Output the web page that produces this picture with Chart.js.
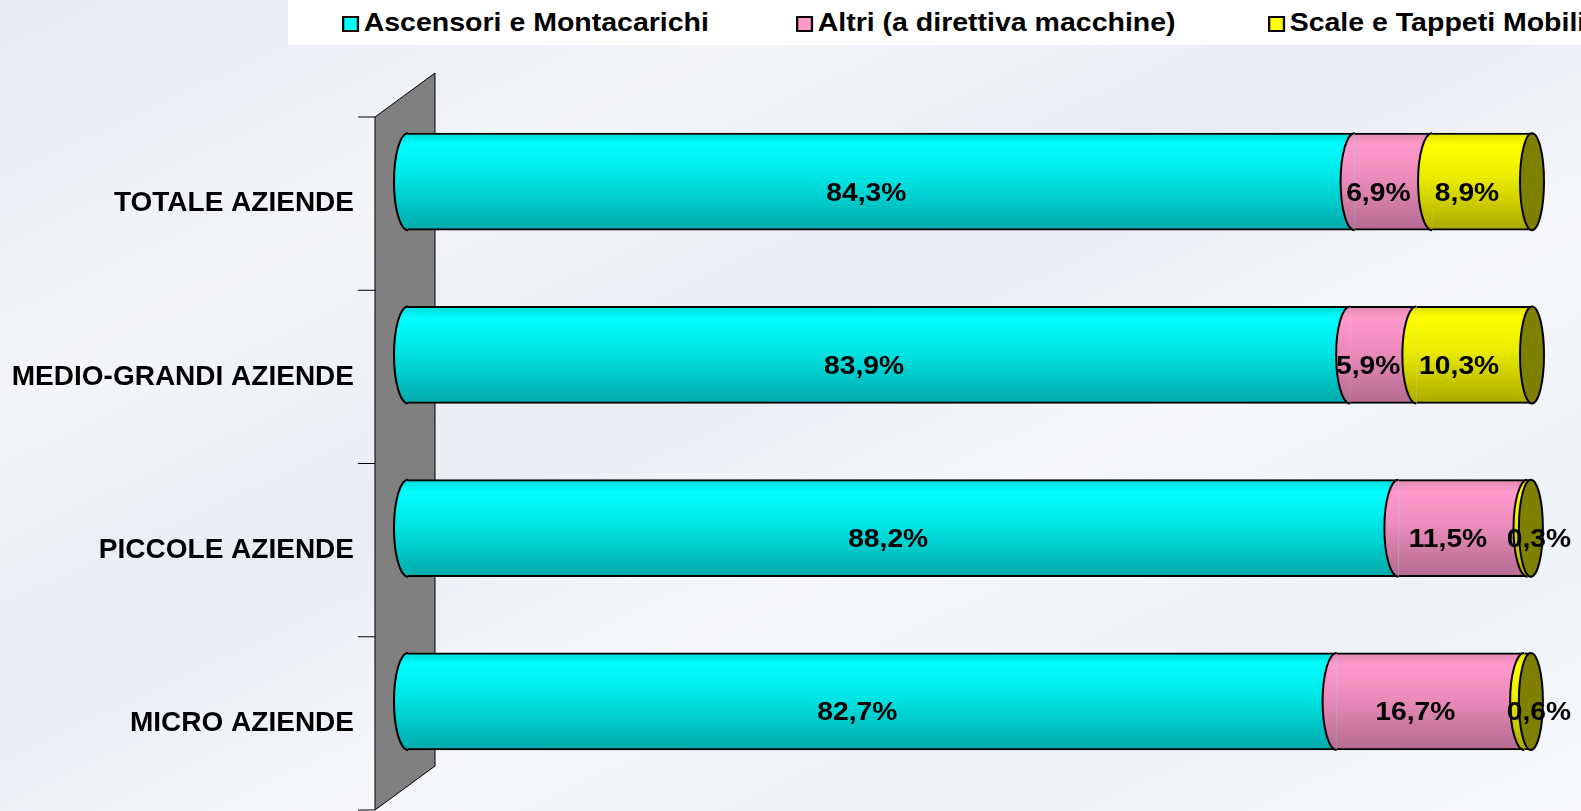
<!DOCTYPE html>
<html>
<head>
<meta charset="utf-8">
<script src="https://cdn.jsdelivr.net/npm/chart.js@4/dist/chart.umd.min.js"></script>
<style>
  html, body { margin: 0; padding: 0; overflow: hidden; }
  body {
    width: 1581px; height: 811px; position: relative;
    background: linear-gradient(155deg, #e6eaf1 0%, #f3f5f9 25%, #e9edf3 45%, #f5f7fb 62%, #eef1f6 80%, #f7f9fc 100%);
    font-family: "Liberation Sans", Arial, sans-serif;
  }
  #legend {
    position: absolute; left: 288px; top: 0; width: 1293px; height: 45px;
    background: #ffffff; white-space: nowrap; overflow: hidden;
  }
  .item {
    position: absolute; top: 8px; font-weight: bold; font-size: 25px; line-height: 28px; color: #000;
    transform: scaleX(1.14); transform-origin: 0 50%;
  }
  .box {
    display: inline-block; width: 11px; height: 12px; border: 2px solid #000;
    margin-right: 4px; vertical-align: -1px;
  }
  canvas { position: absolute; left: 0; top: 0; }
</style>
</head>
<body>
<div id="legend"></div>
<canvas id="cyl" width="1581" height="811"></canvas>
<script>
const categories = ["TOTALE AZIENDE", "MEDIO-GRANDI AZIENDE", "PICCOLE AZIENDE", "MICRO AZIENDE"];
const seriesNames = ["Ascensori e Montacarichi", "Altri (a direttiva macchine)", "Scale e Tappeti Mobili"];
const ascensori = [84.3, 83.9, 88.2, 82.7];
const altri = [6.9, 5.9, 11.5, 16.7];
const scale = [8.9, 10.3, 0.3, 0.6];

const BAR_H = 97;
const RX = 14;
const FAMILY = "'Liberation Sans', Arial, sans-serif";

const palettes = [
  { legend: "#00ffff", stops: [[0, "#00d8d8"], [0.12, "#00ffff"], [0.45, "#00e6e6"], [1, "#00a9a9"]] },
  { legend: "#ff99cc", stops: [[0, "#e088b4"], [0.12, "#ff9acb"], [0.45, "#ec8cbc"], [1, "#b46a90"]] },
  { legend: "#ffff00", stops: [[0, "#dede00"], [0.12, "#ffff00"], [0.45, "#ecec00"], [1, "#aaaa00"]] }
];
const capColor = "#808000";

// legend as real text
const legendPos = [342, 796, 1268];
const legendEl = document.getElementById("legend");
seriesNames.forEach((n, i) => {
  const d = document.createElement("div");
  d.className = "item";
  d.style.left = (legendPos[i] - 288) + "px";
  d.innerHTML = '<span class="box" style="background:' + palettes[i].legend + '"></span>' + n;
  legendEl.appendChild(d);
});

function cylFill(ctx, p) {
  const chart = ctx.chart;
  const y = chart.scales && chart.scales.y;
  if (!y || ctx.dataIndex === undefined) return p.legend;
  const yc = y.getPixelForValue(ctx.dataIndex);
  if (!isFinite(yc)) return p.legend;
  const g = chart.ctx.createLinearGradient(0, yc - BAR_H / 2, 0, yc + BAR_H / 2);
  p.stops.forEach(s => g.addColorStop(s[0], s[1]));
  return g;
}

const wallPlugin = {
  id: "wall",
  beforeDatasetsDraw(chart) {
    const c = chart.ctx, y = chart.scales.y, left = chart.chartArea.left;
    const fx = left - 33, bx = left + 27;
    const top = y.getPixelForValue(-0.5), bot = y.getPixelForValue(categories.length - 0.5);
    c.save();
    c.beginPath();
    c.moveTo(fx, top + 22);
    c.lineTo(bx, top - 22);
    c.lineTo(bx, bot - 22);
    c.lineTo(fx, bot + 22);
    c.closePath();
    c.fillStyle = "#808080";
    c.fill();
    c.strokeStyle = "#000";
    c.lineWidth = 1;
    c.stroke();
    for (let i = 0; i <= categories.length; i++) {
      const ty = y.getPixelForValue(i - 0.5) + 22;
      c.beginPath();
      c.moveTo(fx - 17, ty);
      c.lineTo(fx, ty);
      c.stroke();
    }
    c.restore();
  },
  afterDatasetsDraw(chart) {
    const c = chart.ctx;
    const n = chart.data.datasets.length;
    c.save();
    c.lineWidth = 2;
    c.strokeStyle = "#000";
    for (let d = 0; d < n; d++) {
      const meta = chart.getDatasetMeta(d);
      meta.data.forEach((bar, i) => {
        const h = bar.height / 2;
        c.beginPath();
        c.ellipse(bar.base, bar.y, RX, h, 0, Math.PI / 2, Math.PI * 3 / 2);
        c.fillStyle = cylFill({ chart, dataIndex: i }, palettes[d]);
        c.fill();
        c.stroke();
      });
    }
    const last = chart.getDatasetMeta(n - 1);
    last.data.forEach(bar => {
      c.beginPath();
      c.ellipse(bar.x, bar.y, RX - 2, bar.height / 2, 0, 0, Math.PI * 2);
      c.fillStyle = capColor;
      c.fill();
      c.stroke();
    });
    // value labels
    c.fillStyle = "#000";
    c.font = "bold 25px " + FAMILY;
    c.textAlign = "center";
    c.textBaseline = "middle";
    for (let d = 0; d < n; d++) {
      const meta = chart.getDatasetMeta(d);
      meta.data.forEach((bar, i) => {
        const v = chart.data.datasets[d].data[i];
        let cx = (bar.x + bar.base) / 2 - 15;
        if (v < 2) cx = bar.x + 8;
        c.save();
        c.translate(cx, bar.y + 12);
        c.scale(1.13, 1);
        c.fillText(v.toFixed(1).replace(".", ",") + "%", 0, 0);
        c.restore();
      });
    }
    c.restore();
  }
};

new Chart(document.getElementById("cyl"), {
  type: "bar",
  data: {
    labels: categories,
    datasets: [ascensori, altri, scale].map((vals, i) => ({
      label: seriesNames[i],
      data: vals,
      backgroundColor: ctx => cylFill(ctx, palettes[i]),
      borderColor: "#000",
      borderWidth: { top: 2, bottom: 2, left: 0, right: 0 },
      borderSkipped: false,
      barThickness: BAR_H
    }))
  },
  options: {
    indexAxis: "y",
    responsive: false,
    animation: false,
    layout: { padding: { top: 95, right: 49, bottom: 23, left: 0 } },
    plugins: { legend: { display: false }, tooltip: { enabled: false } },
    scales: {
      x: { stacked: true, min: 0, max: 100.1, display: false },
      y: {
        stacked: true,
        grid: { display: false, drawTicks: false },
        border: { display: false },
        ticks: { color: "#000", font: { family: FAMILY, size: 28, weight: "bold" }, padding: 54, labelOffset: 22 },
        afterFit: s => { s.width = 408; s.paddingTop = 0; s.paddingBottom = 0; }
      }
    }
  },
  plugins: [wallPlugin]
});
</script>
</body>
</html>
